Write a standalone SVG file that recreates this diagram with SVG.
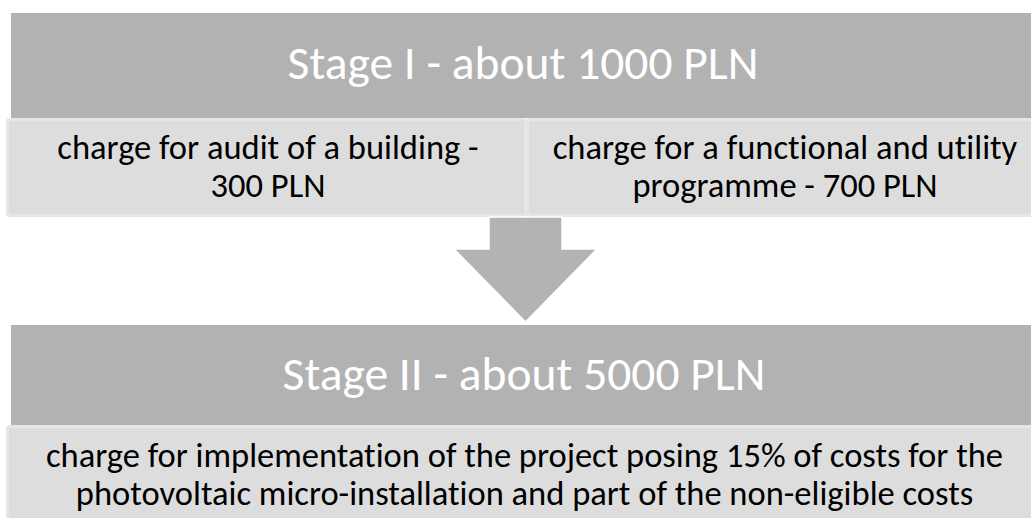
<svg xmlns="http://www.w3.org/2000/svg" width="1031" height="518" viewBox="0 0 1031 518">
<style>
.hdr{fill:#b2b2b2}
.sub{fill:#dddddd;stroke:#e6e6e6;stroke-width:3}
.arr{fill:#b3b3b3;stroke:#ffffff;stroke-width:1.5}
.ht{font-family:"Carlito","Open Sans","Liberation Sans",sans-serif;font-size:47.5px;fill:#ffffff;text-anchor:middle;font-variant-ligatures:none}
.st{font-family:"Carlito","Open Sans","Liberation Sans",sans-serif;font-size:34.5px;fill:#000000;text-anchor:middle;font-variant-ligatures:none}
</style>
<rect width="1031" height="518" fill="#ffffff"/>
<g id="stage1">
<rect class="hdr" x="11" y="13" width="1030" height="105"/>
<text class="ht" x="523" y="79">Stage I - about 1000 PLN</text>
</g>
<g id="audit">
<rect class="sub" x="7.5" y="119.5" width="518" height="96" rx="2"/>
<text class="st" x="268" y="159">charge for audit of a building -</text>
<text class="st" x="268" y="197">300 PLN</text>
</g>
<g id="programme">
<rect class="sub" x="527.5" y="119.5" width="518" height="96" rx="2"/>
<text class="st" x="785" y="159">charge for a functional and utility</text>
<text class="st" x="785" y="197">programme - 700 PLN</text>
</g>
<g id="stage2">
<rect class="hdr" x="11" y="325" width="1030" height="100"/>
<text class="ht" x="524" y="390">Stage II - about 5000 PLN</text>
</g>
<g id="implementation">
<rect class="sub" x="7.5" y="426.5" width="1038" height="100" rx="2"/>
<text class="st" x="524.5" y="467">charge for implementation of the project posing 15% of costs for the</text>
<text class="st" x="524.5" y="505">photovoltaic micro-installation and part of the non-eligible costs</text>
</g>
<g id="connectors">
<polygon class="arr" points="489,217 562,217 562,249 597,249 525.5,322 454,249 489,249"/>
</g>
</svg>
